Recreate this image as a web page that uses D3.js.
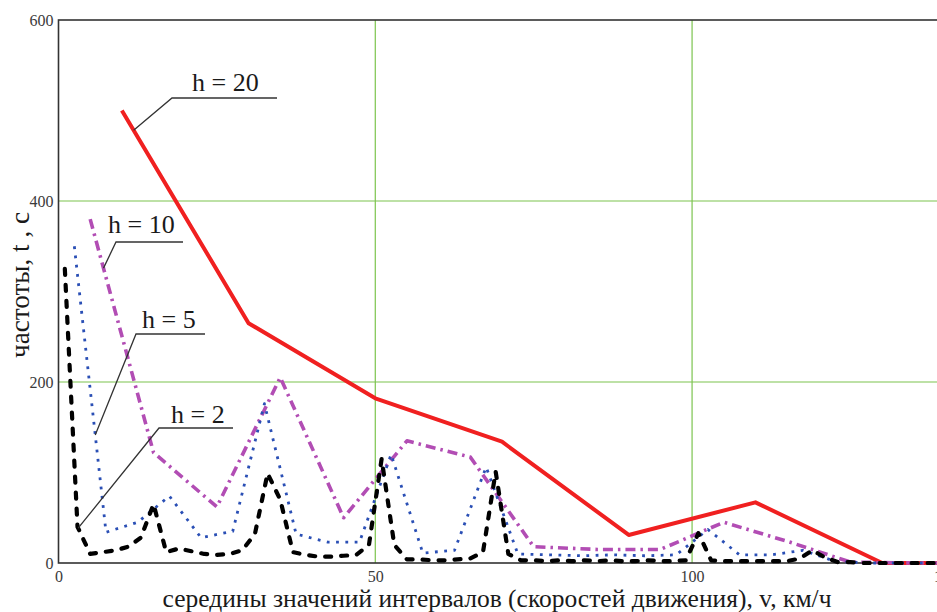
<!DOCTYPE html>
<html><head><meta charset="utf-8">
<script src="https://cdn.jsdelivr.net/npm/d3@7/dist/d3.min.js"></script>
<style>
html,body{margin:0;padding:0;background:#fff;overflow:hidden}
svg{display:block}
</style></head>
<body>
<svg id="chart" width="937" height="612"></svg>
<script>
// ---- data ----
const xTicks = [0, 50, 100, 140];
const yTicks = [0, 200, 400, 600];
const xGrid = [50, 100];
const yGrid = [200, 400];

const xH2 = [1,3,5,7,9,11,13,15,17,19,21,23,25,27,29,31,33,35,37,39,41,43,45,47,49,51,53,55,57,59,61,63,65,67,69,71,73,75,77,79,81,83,85,87,89,91,93,95,97,99,101,103,105,107,109,111,113,115,117,119,121,123,125,127,129,131,133,135,137,139];
const yH2 = [325,40,10,12,14,18,28,65,12,16,13,10,9,10,14,32,99,70,12,9,7,7,8,9,20,115,20,4,4,3,3,4,5,12,101,10,3,3,2,3,2,3,2,3,2,2,3,2,2,3,33,3,2,2,2,2,2,2,5,14,6,1,1,0,0,0,0,0,0,0];

const xH5 = [2.5,7.5,12.5,17.5,22.5,27.5,32.5,37.5,42.5,47.5,52.5,57.5,62.5,67.5,72.5,77.5,82.5,87.5,92.5,97.5,102.5,107.5,112.5,117.5,122.5,127.5,132.5,137.5];
const yH5 = [350,34,45,74,28,35,176,32,23,23,120,11,14,106,10,9,8,9,8,9,37,9,9,14,2,0,0,0];

const xH10 = [5,15,25,35,45,55,65,75,85,95,105,115,125,135,145];
const yH10 = [380,122,62,205,50,135,117,18,15,15,45,24,1,0,0];

const xH20 = [10,30,50,70,90,110,130,150];
const yH20 = [500,265,182,134,31,67,0,0];

const seriesLabels = ["h = 2", "h = 5", "h = 10", "h = 20"];
const xTitle = "середины значений интервалов (скоростей движения), v, км/ч";
const yTitle = "частоты, t , c";

const SERIF = "Liberation Serif";

// ---- layout ----
const svg = d3.select("#chart");
const x = d3.scaleLinear().domain([0, 140]).range([58.5, 945.5]);
const y = d3.scaleLinear().domain([0, 600]).range([563, 20]);

svg.append("defs").append("clipPath").attr("id","plotclip")
  .append("rect").attr("x", x(0)).attr("y", y(600)-2)
  .attr("width", x(140)-x(0)).attr("height", y(0)-y(600)+4);

// grid
svg.append("g").selectAll("line").data(xGrid).join("line")
  .attr("x1", d=>x(d)).attr("x2", d=>x(d)).attr("y1", y(0)).attr("y2", y(600))
  .attr("stroke", "#7cc44e").attr("stroke-width", 1.2);
svg.append("g").selectAll("line").data(yGrid).join("line")
  .attr("y1", d=>y(d)).attr("y2", d=>y(d)).attr("x1", x(0)).attr("x2", x(140))
  .attr("stroke", "#7cc44e").attr("stroke-width", 1.2);

// frame
svg.append("rect").attr("x", x(0)).attr("y", y(600))
  .attr("width", x(140)-x(0)).attr("height", y(0)-y(600))
  .attr("fill","none").attr("stroke","#333").attr("stroke-width",1.6);

// tick labels
const yAxis = d3.axisLeft(y).tickValues(yTicks).tickSize(0).tickPadding(5).tickFormat(d3.format("d"));
const gy = svg.append("g").attr("transform", `translate(${x(0)},0)`).call(yAxis);
gy.select(".domain").remove();
gy.selectAll("text").attr("fill", "#3a3a3a").attr("font-family", SERIF).attr("font-size", 16);

const xAxis = d3.axisBottom(x).tickValues(xTicks).tickSize(0).tickPadding(8).tickFormat(d3.format("d"));
const gx = svg.append("g").attr("transform", `translate(0,${y(0)})`).call(xAxis);
gx.select(".domain").remove();
gx.selectAll("text").attr("fill", "#3a3a3a").attr("font-family", SERIF).attr("font-size", 16);

// series
const line = d3.line().x(d=>x(d[0])).y(d=>y(d[1]));
const plot = svg.append("g").attr("clip-path","url(#plotclip)");
const series = [
  {xs:xH20, ys:yH20, color:"#f02020", w:4, dash:null, cap:"butt"},
  {xs:xH10, ys:yH10, color:"#b24db4", w:3.6, dash:"10,5,2.5,5", cap:"butt"},
  {xs:xH5, ys:yH5, color:"#2a4fb5", w:2.8, dash:"2.8,6.5", cap:"butt"},
  {xs:xH2, ys:yH2, color:"#000000", w:4.2, dash:"6,10", cap:"round"}
];
series.forEach(s=>{
  const pts = s.xs.map((v,i)=>[v, s.ys[i]]);
  const p = plot.append("path").datum(pts).attr("d", line)
    .attr("fill","none").attr("stroke", s.color).attr("stroke-width", s.w)
    .attr("stroke-linejoin","round").attr("stroke-linecap", s.cap);
  if (s.dash) p.attr("stroke-dasharray", s.dash);
});

// annotations
const ann = [
  {t: seriesLabels[3], tx:192, ty:91, ex:172, ey:98, hx:277, px:11.86, sx:xH20, sy:yH20},
  {t: seriesLabels[2], tx:108, ty:233, ex:116, ey:242, hx:183, px:7.1, sx:xH10, sy:yH10},
  {t: seriesLabels[1], tx:142, ty:328, ex:136, ey:334, hx:205, px:5.8, sx:xH5, sy:yH5},
  {t: seriesLabels[0], tx:171, ty:423, ex:159, ey:428, hx:233, px:3.1, sx:xH2, sy:yH2}
];
ann.forEach(a=>{
  let yy = a.sy[0];
  for (let i=0;i<a.sx.length-1;i++){
    if (a.px>=a.sx[i] && a.px<=a.sx[i+1]){
      const f=(a.px-a.sx[i])/(a.sx[i+1]-a.sx[i]);
      yy=a.sy[i]+f*(a.sy[i+1]-a.sy[i]);
    }
  }
  svg.append("polyline")
    .attr("points", `${x(a.px)},${y(yy)} ${a.ex},${a.ey} ${a.hx},${a.ey}`)
    .attr("fill","none").attr("stroke","#333").attr("stroke-width",1.3);
  svg.append("text").attr("x", a.tx).attr("y", a.ty).text(a.t)
    .attr("font-family", SERIF).attr("font-size", 26).attr("fill","#1a1a1a");
});

// axis titles (font size fitted to the reference text extents)
function fit(sel, target, base){
  const w = sel.node().getComputedTextLength();
  sel.attr("font-size", (base*target/w).toFixed(2));
}
const xt = svg.append("text").attr("x", 497).attr("y", 607).attr("text-anchor","middle")
  .attr("font-family", SERIF).attr("font-size", 22).attr("fill","#1a1a1a").text(xTitle);
fit(xt, 669, 22);
const yt = svg.append("text").attr("transform","translate(29,285) rotate(-90)")
  .attr("text-anchor","middle").attr("font-family", SERIF)
  .attr("font-size", 22).attr("fill","#1a1a1a").text(yTitle);
fit(yt, 146, 22);
</script>
</body></html>
